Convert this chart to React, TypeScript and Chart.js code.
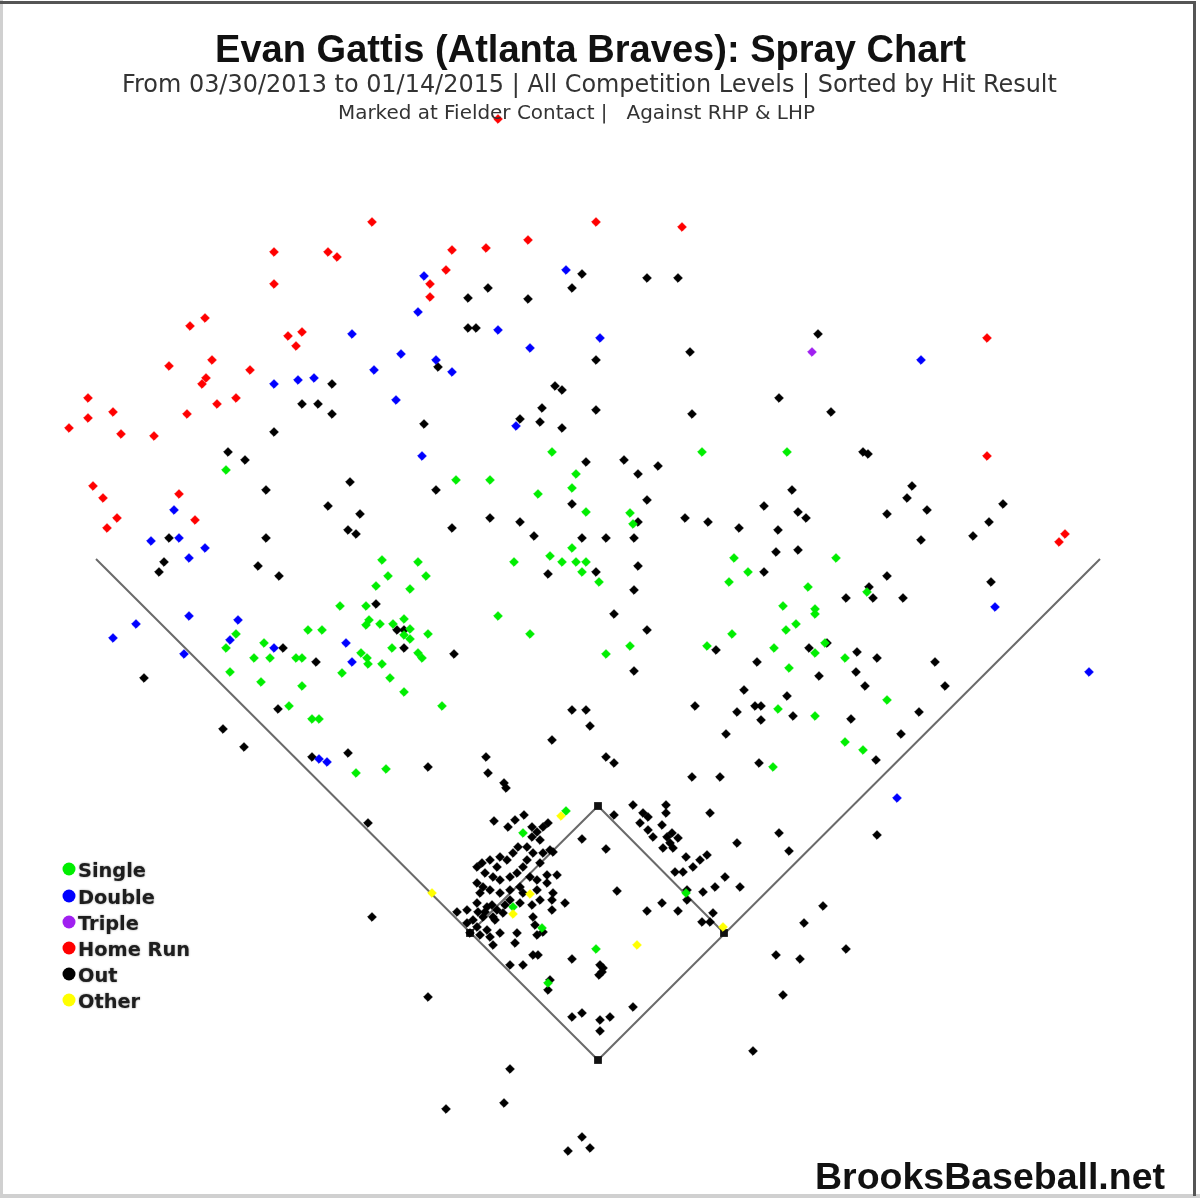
import React, { useEffect, useRef } from "react";
import { Chart, registerables } from "chart.js";

Chart.register(...registerables);

const TITLE = "Evan Gattis (Atlanta Braves): Spray Chart";
const SUBTITLE = "From 03/30/2013 to 01/14/2015 | All Competition Levels | Sorted by Hit Result";
const SUBTITLE2 = "Marked at Fielder Contact |   Against RHP & LHP";
const CREDIT = "BrooksBaseball.net";

const legendLabels = ["Single", "Double", "Triple", "Home Run", "Out", "Other"];
const legendColors = ["#00ee00", "#0000ff", "#a020f0", "#ff0000", "#000000", "#ffff00"];

type P = [number, number];

const singles: P[] = [
  [226, 470], [382, 560], [388, 576], [376, 586],
  [552, 452], [702, 452], [787, 452], [576, 474], [456, 480], [490, 480], [572, 488], [538, 494],
  [586, 512], [630, 513], [633, 524], [572, 548], [418, 562], [514, 562], [550, 556], [562, 562],
  [576, 562], [586, 562], [734, 558], [426, 576], [582, 572], [599, 582], [748, 572], [729, 582],
  [410, 589], [836, 558], [808, 587], [867, 592],
  [236, 634], [226, 648], [264, 643], [254, 658], [270, 658], [296, 658], [302, 658], [230, 672],
  [261, 682], [302, 686], [308, 630], [322, 630], [340, 606], [366, 606], [369, 620], [366, 625],
  [380, 624], [393, 624], [392, 648], [361, 653], [367, 658], [368, 664], [382, 664], [342, 673],
  [390, 678], [289, 706], [312, 719], [319, 719], [356, 773], [386, 769],
  [404, 619], [410, 629], [404, 635], [410, 639], [428, 634], [418, 653], [422, 658], [498, 616],
  [530, 634], [404, 692], [442, 706], [630, 646], [606, 654], [707, 646], [732, 634], [783, 606],
  [786, 630], [796, 624], [774, 648], [789, 668], [778, 709], [773, 767],
  [566, 811], [523, 833], [686, 893], [513, 907], [542, 928], [596, 949], [548, 983],
  [815, 609], [815, 614], [815, 653], [825, 643], [845, 658], [887, 700], [815, 716], [845, 742], [863, 750],
];

const doubles: P[] = [
  [424, 276], [566, 270], [352, 334], [401, 354], [274, 384], [298, 380], [314, 378], [374, 370],
  [396, 400], [418, 312], [498, 330], [600, 338], [530, 348], [436, 360], [452, 372], [516, 426],
  [422, 456], [174, 510], [151, 541], [179, 538], [205, 548], [189, 558], [113, 638], [136, 624],
  [189, 616], [238, 620], [230, 640], [184, 654], [274, 648], [346, 643], [352, 662], [319, 759],
  [327, 762], [921, 360], [995, 607], [1089, 672], [897, 798],
];

const triples: P[] = [[812, 352]];

const homeRuns: P[] = [
  [498, 119], [372, 222], [596, 222], [682, 227], [528, 240], [486, 248], [452, 250], [274, 252],
  [328, 252], [337, 257], [446, 270], [430, 284], [274, 284], [430, 297], [205, 318], [190, 326],
  [302, 332], [288, 336], [296, 346], [169, 366], [212, 360], [250, 370], [206, 378], [202, 384],
  [88, 398], [236, 398], [217, 404], [113, 412], [88, 418], [187, 414], [69, 428], [121, 434],
  [154, 436], [93, 486], [103, 498], [179, 494], [195, 520], [117, 518], [107, 528], [987, 338],
  [987, 456], [1065, 534], [1059, 542],
];

const outs: P[] = [
  [582, 274], [488, 288], [572, 288], [647, 278], [678, 278], [468, 298], [528, 299], [468, 328], [476, 328],
  [332, 384], [302, 404], [318, 404], [332, 414], [274, 432], [228, 452], [245, 460], [266, 490], [350, 482],
  [328, 506], [360, 514], [348, 530], [356, 534], [169, 538], [266, 538], [164, 562], [159, 572], [258, 566],
  [279, 576],
  [690, 352], [438, 367], [596, 360], [555, 386], [562, 390], [779, 398], [542, 408], [596, 410], [692, 414],
  [424, 424], [520, 419], [540, 422], [562, 428], [586, 462], [624, 460], [638, 474], [658, 466], [792, 490],
  [436, 490], [572, 504], [647, 500], [764, 506], [798, 512], [490, 518], [520, 522], [452, 528], [638, 522],
  [685, 518], [708, 522], [739, 528], [778, 530], [534, 536], [582, 538], [606, 538], [634, 538], [776, 552],
  [798, 550], [548, 574], [596, 572], [638, 566], [764, 572], [634, 590],
  [818, 334], [831, 412], [863, 452], [868, 454], [912, 486], [907, 498], [1003, 504], [887, 514], [927, 510],
  [806, 518], [989, 522], [973, 536], [921, 540], [887, 576], [991, 582], [869, 587], [846, 598], [873, 598],
  [903, 598],
  [144, 678], [283, 648], [316, 662], [376, 604], [397, 630], [278, 709], [223, 729], [244, 747], [312, 757],
  [348, 753], [368, 823],
  [404, 630], [404, 648], [454, 654], [614, 614], [647, 630], [716, 650], [634, 671], [757, 662], [744, 690],
  [787, 696], [695, 706], [737, 712], [755, 706], [761, 706], [793, 716], [761, 720], [572, 710], [586, 710],
  [590, 726], [552, 740], [726, 734], [486, 757], [428, 767], [488, 773], [606, 757], [614, 763], [504, 783],
  [506, 788], [759, 763], [692, 777], [720, 777], [779, 833], [789, 851], [710, 813], [737, 843],
  [809, 648], [827, 643], [857, 652], [877, 658], [935, 662], [819, 676], [856, 672], [865, 686], [945, 686],
  [851, 719], [919, 712], [901, 734], [876, 760], [877, 835],
  [633, 805], [666, 805], [666, 813], [614, 815], [643, 813], [648, 817], [640, 823], [648, 830], [662, 825],
  [653, 837], [667, 837], [672, 833], [678, 838], [670, 843], [663, 848], [673, 848], [582, 839], [606, 849],
  [686, 857], [700, 860], [707, 855], [693, 867], [683, 872], [675, 872], [725, 877], [740, 887], [715, 887],
  [703, 892], [687, 890], [617, 891],
  [494, 821], [508, 827], [515, 820], [524, 815], [532, 827], [537, 832], [543, 827], [548, 823], [540, 840],
  [532, 837], [527, 847], [518, 847], [513, 853], [507, 860], [500, 857], [497, 867], [490, 860], [482, 863],
  [477, 867], [485, 873], [493, 877], [500, 880], [510, 877], [517, 873], [523, 867], [527, 860], [533, 853],
  [543, 853], [550, 850], [553, 852], [540, 863], [530, 877], [537, 880], [547, 875], [557, 875], [547, 883],
  [537, 890], [520, 887], [510, 890], [500, 893], [490, 890], [483, 887], [477, 883], [480, 893], [523, 893],
  [553, 893], [540, 900],
  [457, 912], [467, 910], [477, 903], [487, 907], [497, 910], [503, 913], [493, 917], [483, 917], [473, 920],
  [467, 923], [477, 927], [487, 930], [500, 933], [480, 935], [470, 933], [490, 937], [510, 900], [520, 903],
  [532, 905], [533, 917], [535, 925], [552, 910], [552, 900], [565, 903], [543, 932], [537, 935], [517, 933],
  [515, 943], [493, 945], [510, 965], [523, 965], [533, 955], [538, 955], [485, 912], [492, 905], [495, 920],
  [478, 912], [505, 905],
  [572, 959], [600, 965], [603, 968], [599, 975], [602, 972], [550, 980], [548, 990], [647, 911], [662, 903],
  [678, 911], [687, 900], [702, 922], [713, 913], [710, 922], [776, 955], [800, 959], [783, 995], [753, 1051],
  [633, 1007], [572, 1017], [582, 1013], [600, 1020], [610, 1017], [600, 1031], [428, 997], [510, 1069],
  [504, 1103], [446, 1109], [582, 1137], [568, 1151], [590, 1148], [372, 917], [823, 906], [804, 923], [846, 949],
];

const others: P[] = [[561, 816], [432, 893], [530, 894], [513, 914], [637, 945], [723, 927]];

// field geometry (field coordinates)
const leftFoulLine: P[] = [[96, 559], [598, 1060]];
const rightFoulLine: P[] = [[598, 1060], [1100, 559]];
const infieldLine: P[] = [[724, 933], [598, 806], [470, 933]];
const bases: P[] = [[598, 1060], [724, 933], [598, 806], [470, 933]];

const toXY = (arr: P[]) => arr.map(([x, y]) => ({ x, y }));

function fitFont(ctx: CanvasRenderingContext2D, text: string, weight: string, family: string, width: number) {
  ctx.font = `${weight} 100px ${family}`;
  const w = ctx.measureText(text).width;
  return `${weight} ${((100 * width) / w).toFixed(2)}px ${family}`;
}

const overlayPlugin = {
  id: "sprayOverlay",
  beforeDraw(chart: any) {
    const ctx: CanvasRenderingContext2D = chart.ctx;
    ctx.save();
    ctx.fillStyle = "#ffffff";
    ctx.fillRect(0, 0, chart.width, chart.height);
    // frame
    ctx.fillStyle = "#d0d0d0";
    ctx.fillRect(0, 0, 3, chart.height);
    ctx.fillRect(0, 1194, chart.width, 4);
    ctx.fillStyle = "#555555";
    ctx.fillRect(0, 1, 1196, 3);
    ctx.fillRect(1193, 1, 3, 1195);
    ctx.restore();
  },
  afterDraw(chart: any) {
    const ctx: CanvasRenderingContext2D = chart.ctx;
    ctx.save();
    ctx.textBaseline = "alphabetic";
    ctx.textAlign = "left";
    const sans = "'Liberation Sans', Arial, sans-serif";
    const deja = "'DejaVu Sans', sans-serif";

    ctx.fillStyle = "#111111";
    ctx.font = fitFont(ctx, TITLE, "bold", sans, 751);
    ctx.fillText(TITLE, 215, 62);

    ctx.fillStyle = "#333333";
    ctx.font = fitFont(ctx, SUBTITLE, "normal", deja, 935);
    ctx.fillText(SUBTITLE, 122, 92);

    ctx.font = fitFont(ctx, SUBTITLE2, "normal", deja, 477);
    ctx.fillText(SUBTITLE2, 338, 119);

    ctx.fillStyle = "#111111";
    ctx.font = fitFont(ctx, CREDIT, "bold", sans, 350);
    ctx.fillText(CREDIT, 815, 1189);

    // legend
    const legendFont = fitFont(ctx, "Home Run", "bold", deja, 112);
    const ys = [869, 896, 922, 948, 974, 1000];
    legendLabels.forEach((label, i) => {
      ctx.beginPath();
      ctx.fillStyle = legendColors[i];
      ctx.arc(69, ys[i], 6.5, 0, Math.PI * 2);
      ctx.fill();
      ctx.save();
      ctx.font = legendFont;
      ctx.fillStyle = "#1e1e1e";
      ctx.shadowColor = "rgba(0,0,0,0.45)";
      ctx.shadowBlur = 2;
      ctx.fillText(label, 78, ys[i] + 8);
      ctx.restore();
    });
    ctx.restore();
  },
};

const markerRadius = 4.3;

function hitDataset(label: string, data: P[], color: string, order: number) {
  return {
    label,
    data: toXY(data),
    backgroundColor: color,
    borderColor: color,
    borderWidth: 1,
    pointStyle: "rectRot",
    pointRadius: markerRadius,
    showLine: false,
    order,
    clip: false,
  };
}

function lineDataset(label: string, data: P[]) {
  return {
    label,
    data: toXY(data),
    showLine: true,
    borderColor: "#6a6a6a",
    borderWidth: 2,
    pointRadius: 0,
    fill: false,
    order: 20,
    clip: false,
  };
}

export default function App() {
  const ref = useRef<HTMLCanvasElement | null>(null);
  useEffect(() => {
    if (!ref.current) return;
    const chart = new Chart(ref.current, {
      type: "scatter",
      data: {
        datasets: [
          hitDataset("Other", others, legendColors[5], 1),
          hitDataset("Triple", triples, legendColors[2], 2),
          hitDataset("Home Run", homeRuns, legendColors[3], 3),
          hitDataset("Double", doubles, legendColors[1], 4),
          hitDataset("Single", singles, legendColors[0], 5),
          hitDataset("Out", outs, legendColors[4], 6),
          {
            label: "Bases",
            data: toXY(bases),
            backgroundColor: "#111111",
            borderColor: "#111111",
            borderWidth: 0,
            pointStyle: "rect",
            pointRadius: 5.5,
            order: 10,
            clip: false,
          },
          lineDataset("Left foul line", leftFoulLine),
          lineDataset("Right foul line", rightFoulLine),
          lineDataset("Infield", infieldLine),
        ] as any,
      },
      options: {
        responsive: false,
        animation: false,
        devicePixelRatio: 1,
        layout: { padding: 0, autoPadding: false },
        scales: {
          x: { type: "linear", min: 0, max: 1200, display: false },
          y: { type: "linear", min: 0, max: 1198, reverse: true, display: false },
        },
        plugins: {
          legend: { display: false },
          tooltip: { enabled: false },
          title: { display: false },
        },
        events: [],
      },
      plugins: [overlayPlugin],
    });
    return () => chart.destroy();
  }, []);

  return (
    <div style={{ position: "absolute", left: 0, top: 0, width: 1200, height: 1198, background: "#fff" }}>
      <canvas ref={ref} width={1200} height={1198} style={{ display: "block" }} />
    </div>
  );
}
